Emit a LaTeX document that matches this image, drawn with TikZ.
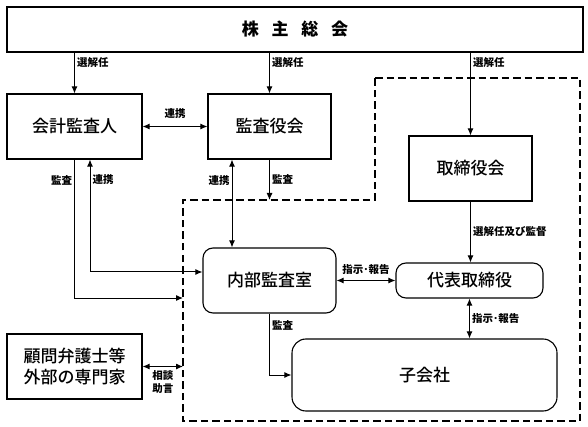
\documentclass[tikz,border=0pt]{standalone}
\usepackage{fontspec}
\setmainfont{Noto Sans CJK JP}
\newfontfamily\medfont{Noto Sans CJK JP Medium}
\usetikzlibrary{arrows.meta,positioning}
\tikzset{>={Latex[length=7pt,width=6pt]}}

\begin{document}
\begin{tikzpicture}[x=1pt, y=-1pt, line width=1pt, font=\fontsize{17}{21}\selectfont\medfont]
    \tikzstyle{box}=[draw=black, line width=1.1pt, minimum height=65pt, inner sep=2pt]
    \tikzstyle{rbox}=[box, rounded corners=10pt]
    \tikzstyle{lbl}=[font=\fontsize{10.5}{12.5}\selectfont\bfseries, inner sep=2pt]
    \useasboundingbox (0,0) rectangle (588,427);

    % dashed area
    \coordinate (d1) at (183,200);
    \coordinate (d3) at (183,298);
    \draw[dash pattern=on 7.5pt off 4pt, line width=1.1pt]
        (375,78) -- (580,78) -- (580,421) -- (183,421) -- (d1) -- (375,200) -- cycle;

    \node[box, minimum width=576pt, minimum height=45pt, font=\fontsize{17}{21}\selectfont\bfseries] (GM)  at (295,29.5)  {株\hspace{0.75em}主\hspace{0.75em}総\hspace{0.75em}会};
    \node[box, minimum width=135pt] (AUD) at (74.5,126.5)  {会計監査人};
    \node[box, minimum width=123pt] (KAN) at (269.5,126.5) {監査役会};
    \node[box, minimum width=123pt] (BOD) at (470.5,168.5) {取締役会};
    \node[rbox, minimum width=147pt, minimum height=35pt] (CEO) at (469.5,280.5) {代表取締役};
    \node[rbox, minimum width=133pt] (IA)  at (269.5,280.5) {内部監査室};
    \node[rbox, minimum width=265pt, minimum height=72pt, rounded corners=14pt] (SUB) at (424.5,375) {子会社};
    \node[box, minimum width=135pt, align=center] (EXT) at (74.5,366.5) {顧問弁護士等\\外部の専門家};

    \draw[->] (GM.south -| AUD.north) -- node[lbl, right, pos=0.24]{選解任} (AUD.north);
    \draw[->] (GM.south -| KAN.north) -- node[lbl, right, pos=0.24]{選解任} (KAN.north);
    \draw[->] (GM.south -| BOD.north) -- node[lbl, right, pos=0.12]{選解任} (BOD.north);

    \draw[<->] (AUD.east) -- node[lbl, above, yshift=5pt]{連携} (KAN.west);
    \draw[<->] ([xshift=-37.5pt]KAN.south) -- node[lbl, left, pos=0.24]{連携} ([xshift=-37.5pt]KAN.south |- IA.north);
    \draw[->] (KAN.south) -- node[lbl, right, pos=0.5]{監査} (KAN.south |- d1);

    \draw[<->] ([xshift=15.5pt]AUD.south) |- node[lbl, right, pos=0.09]{連携} ([yshift=8.5pt]IA.west);
    \draw[->] (AUD.south) |- node[lbl, left, pos=0.075]{監査} (d3);
    \draw[<->] (EXT.east) -- node[lbl, below, align=center, yshift=-2pt]{相談\\助言} (EXT.east -| d1);

    \draw[<->] (IA.east) -- node[lbl, above, yshift=3pt]{指示･報告} (CEO.west);
    \draw[->] (BOD.south) -- node[lbl, right]{選解任及び監督} (BOD.south |- CEO.north);
    \draw[<->] (CEO.south) -- node[lbl, right]{指示･報告} (CEO.south |- SUB.north);
    \draw[->] (IA.south) |- node[lbl, right, pos=0.1]{監査} (SUB.west);

\end{tikzpicture}
\end{document}
